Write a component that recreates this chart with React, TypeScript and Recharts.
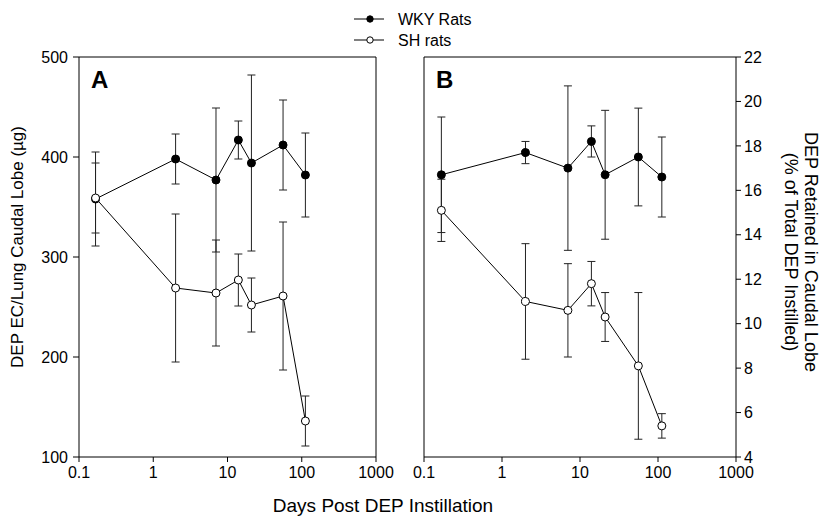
import { LineChart, Line, XAxis, YAxis, ErrorBar, ReferenceLine } from 'recharts'

// days after instillation (log axis)
const days = [0.167, 2, 7, 14, 21, 56, 112]
const dayTicks = [0.1, 1, 10, 100, 1000]

// panel A: DEP EC per caudal lobe (µg)
const wkyMass = [358, 398, 377, 417, 394, 412, 382]
const wkyMassErr = [47, 25, 72, 19, 88, 45, 42]
const shMass = [359, 269, 264, 277, 252, 261, 136]
const shMassErr = [35, 74, 53, 26, 27, 74, 25]
const massTicks = [100, 200, 300, 400, 500]

// panel B: % of total DEP instilled
const wkyPct = [16.7, 17.7, 17.0, 18.2, 16.7, 17.5, 16.6]
const wkyPctErr = [2.6, 0.5, 3.7, 0.7, 2.9, 2.2, 1.8]
const shPct = [15.1, 11.0, 10.6, 11.8, 10.3, 8.1, 5.4]
const shPctErr = [1.4, 2.6, 2.1, 1.0, 1.1, 3.3, 0.55]
const pctTicks = [4, 6, 8, 10, 12, 14, 16, 18, 20, 22]

const FONT = '"Liberation Sans", Arial, sans-serif'

const rowsA = days.map((d, i) => ({ day: d, wky: wkyMass[i], wkyErr: wkyMassErr[i], sh: shMass[i], shErr: shMassErr[i] }))
const rowsB = days.map((d, i) => ({ day: d, wky: wkyPct[i], wkyErr: wkyPctErr[i], sh: shPct[i], shErr: shPctErr[i] }))

const tickStyle = { fill: '#000', fontSize: 16, fontFamily: FONT }
const axisLine = { stroke: '#000', strokeWidth: 1 }

function series(yAxisId?: string) {
  const ax = yAxisId ? { yAxisId } : {}
  return [
    <Line
      key="wky"
      {...ax}
      dataKey="wky"
      stroke="#000"
      strokeWidth={1}
      dot={{ r: 4, fill: '#000', stroke: '#000', strokeWidth: 1 }}
      isAnimationActive={false}
    >
      <ErrorBar dataKey="wkyErr" direction="y" width={4} stroke="#222" strokeWidth={1} />
    </Line>,
    <Line
      key="sh"
      {...ax}
      dataKey="sh"
      stroke="#000"
      strokeWidth={1}
      dot={{ r: 4, fill: '#fff', stroke: '#000', strokeWidth: 1 }}
      isAnimationActive={false}
    >
      <ErrorBar dataKey="shErr" direction="y" width={4} stroke="#222" strokeWidth={1} />
    </Line>,
  ]
}

function xAxis() {
  return (
    <XAxis
      dataKey="day"
      type="number"
      scale="log"
      domain={[0.1, 1000]}
      ticks={dayTicks}
      allowDataOverflow
      height={60}
      tickSize={5}
      tickMargin={5}
      tick={tickStyle}
      axisLine={axisLine}
      tickLine={axisLine}
    />
  )
}

export default function App() {
  return (
    <div style={{ position: 'absolute', left: 0, top: 0, width: 821, height: 517, background: '#fff', fontFamily: FONT }}>
      <div style={{ position: 'absolute', left: 0, top: 0 }}>
        <LineChart width={400} height={517} data={rowsA} margin={{ top: 57, right: 24, bottom: 0, left: 0 }}>
          {xAxis()}
          <YAxis
            type="number"
            domain={[100, 500]}
            ticks={massTicks}
            width={79}
            tickSize={6}
            tickMargin={5}
            tick={tickStyle}
            axisLine={axisLine}
            tickLine={axisLine}
          />
          <ReferenceLine y={500} stroke="#000" />
          <ReferenceLine x={1000} stroke="#000" />
          {series()}
        </LineChart>
      </div>
      <div style={{ position: 'absolute', left: 400, top: 0 }}>
        <LineChart width={421} height={517} data={rowsB} margin={{ top: 57, right: 0, bottom: 0, left: 0 }}>
          {xAxis()}
          <YAxis
            yAxisId="l"
            type="number"
            domain={[4, 22]}
            ticks={pctTicks}
            width={24}
            tickSize={5}
            tick={() => <g />}
            axisLine={axisLine}
            tickLine={axisLine}
          />
          <YAxis
            yAxisId="r"
            orientation="right"
            type="number"
            domain={[4, 22]}
            ticks={pctTicks}
            width={85}
            tickSize={5}
            tickMargin={3}
            tick={tickStyle}
            axisLine={axisLine}
            tickLine={axisLine}
          />
          <ReferenceLine yAxisId="r" y={22} stroke="#000" />
          {series('r')}
        </LineChart>
      </div>
      <svg width={821} height={517} style={{ position: 'absolute', left: 0, top: 0, pointerEvents: 'none' }} fontFamily={FONT}>
        {/* legend */}
        <line x1={354} y1={19} x2={384} y2={19} stroke="#000" />
        <circle cx={370} cy={19} r={3.2} fill="#000" stroke="#000" />
        <text x={398} y={24.5} fontSize={16}>WKY Rats</text>
        <line x1={354} y1={40} x2={384} y2={40} stroke="#000" />
        <circle cx={370} cy={40} r={3.2} fill="#fff" stroke="#000" />
        <text x={398} y={45.5} fontSize={16}>SH rats</text>
        {/* panel letters */}
        <text x={91} y={88} fontSize={24} fontWeight="bold">A</text>
        <text x={436} y={88} fontSize={24} fontWeight="bold">B</text>
        {/* axis titles */}
        <text transform="translate(23,247) rotate(-90)" textAnchor="middle" fontSize={17}>
          DEP EC/Lung Caudal Lobe (µg)
        </text>
        <text transform="translate(805,252) rotate(90)" textAnchor="middle" fontSize={18}>
          DEP Retained in Caudal Lobe
        </text>
        <text transform="translate(785,252) rotate(90)" textAnchor="middle" fontSize={18}>
          (% of Total DEP Instilled)
        </text>
        <text x={383} y={512} textAnchor="middle" fontSize={19}>
          Days Post DEP Instillation
        </text>
      </svg>
    </div>
  )
}
